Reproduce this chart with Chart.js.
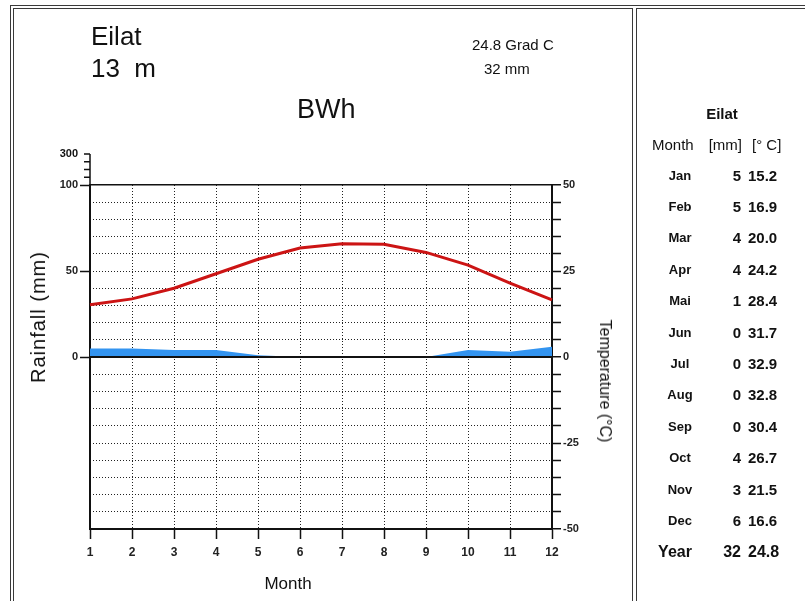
<!DOCTYPE html>
<html>
<head>
<meta charset="utf-8">
<script src="https://cdn.jsdelivr.net/npm/chart.js@4/dist/chart.umd.min.js"></script>
<style>
  body { margin: 0; background: #fff; font-family: "Liberation Sans", Arial, sans-serif; }
  #wrap { position: relative; width: 805px; height: 601px; overflow: hidden; }
  #chart { position: absolute; left: 0; top: 0; }
  .t { position: absolute; white-space: nowrap; color: #111; line-height: 1; }
  .ln { position: absolute; background: #3a3a3a; }
  .b { font-weight: bold; }
</style>
</head>
<body>
<div id="wrap">
  <canvas id="chart" width="805" height="601"></canvas>

  <!-- frame lines -->
  <div class="ln" style="left:10px;top:5px;width:795px;height:1px"></div>
  <div class="ln" style="left:13px;top:8px;width:620px;height:1px"></div>
  <div class="ln" style="left:636px;top:8px;width:169px;height:1px"></div>
  <div class="ln" style="left:10px;top:5px;width:1px;height:596px"></div>
  <div class="ln" style="left:13px;top:8px;width:1px;height:593px"></div>
  <div class="ln" style="left:632px;top:8px;width:1px;height:593px"></div>
  <div class="ln" style="left:636px;top:8px;width:1px;height:593px"></div>

  <!-- header -->
  <div class="t" style="left:91px;top:23px;font-size:26px">Eilat</div>
  <div class="t" style="left:91px;top:55px;font-size:26px;white-space:pre">13  m</div>
  <div class="t" style="left:297px;top:96px;font-size:27px">BWh</div>
  <div class="t" style="left:472px;top:37px;font-size:15px">24.8 Grad C</div>
  <div class="t" style="left:484px;top:61px;font-size:15px">32 mm</div>

  <!-- axis titles -->
  <div class="t" style="left:38px;top:317px;font-size:20px;letter-spacing:1px;transform:translate(-50%,-50%) rotate(-90deg)">Rainfall (mm)</div>
  <div class="t" style="left:605px;top:381px;font-size:16px;transform:translate(-50%,-50%) rotate(90deg)">Temperature (°C)</div>
  <div class="t" style="left:288px;top:583px;font-size:17px;transform:translate(-50%,-50%)">Month</div>

  <!-- climate table -->
  <div id="table"></div>
</div>

<script>
const monthTicks = ["1", "2", "3", "4", "5", "6", "7", "8", "9", "10", "11", "12"];
const monthNames = ["Jan", "Feb", "Mar", "Apr", "Mai", "Jun", "Jul", "Aug", "Sep", "Oct", "Nov", "Dec"];
const rainfall = [5, 5, 4, 4, 1, 0, 0, 0, 0, 4, 3, 6];
const temperature = [15.2, 16.9, 20.0, 24.2, 28.4, 31.7, 32.9, 32.8, 30.4, 26.7, 21.5, 16.6];
const yearRain = 32;
const yearTemp = "24.8";
const rainTicks = [0, 50, 100];
const rainTopTicks = [150, 200, 250, 300];

// table on the right
const table = document.getElementById("table");
function cell(text, x, y, size, cls, align) {
  const d = document.createElement("div");
  d.className = "t " + (cls || "");
  d.textContent = text;
  d.style.fontSize = size + "px";
  d.style.top = y - size / 2 + "px";
  if (align === "right") d.style.right = 805 - x + "px";
  else if (align === "center") { d.style.left = x + "px"; d.style.transform = "translateX(-50%)"; }
  else d.style.left = x + "px";
  table.appendChild(d);
}
cell("Eilat", 722, 113, 15, "b", "center");
cell("Month", 652, 144, 15);
cell("[mm]", 742, 144, 15, "", "right");
cell("[° C]", 752, 144, 15);
monthNames.forEach((m, i) => {
  const y = 175 + i * 31.4;
  cell(m, 680, y, 13, "b", "center");
  cell(String(rainfall[i]), 741, y, 15, "b", "right");
  cell(temperature[i].toFixed(1), 748, y, 15, "b");
});
cell("Year", 675, 552, 16, "b", "center");
cell(String(yearRain), 741, 552, 16, "b", "right");
cell(yearTemp, 748, 552, 16, "b");

const solidAt = [50, 0, -50];

// left axis continues above 100 mm on a compressed scale
const rainTop = {
  id: "rainTop",
  afterDraw(chart) {
    const s = chart.scales.yRain, ctx = chart.ctx;
    const x = chart.chartArea.left;
    const pos = (v) => s.getPixelForValue(100 + (v - 100) * 0.09);
    ctx.save();
    ctx.strokeStyle = "#111";
    ctx.lineWidth = 1.5;
    ctx.beginPath();
    ctx.moveTo(x, pos(100));
    ctx.lineTo(x, pos(300));
    rainTopTicks.forEach((v) => {
      ctx.moveTo(x, pos(v));
      ctx.lineTo(x - 6, pos(v));
    });
    ctx.stroke();
    ctx.fillStyle = "#111";
    ctx.font = "bold 11px 'Liberation Sans', Arial";
    ctx.textAlign = "right";
    ctx.textBaseline = "middle";
    ctx.fillText("300", x - 12, pos(300));
    ctx.restore();
  },
};

// zero line drawn over the rain fill
const zeroLine = {
  id: "zeroLine",
  afterDatasetsDraw(chart) {
    const s = chart.scales.yTemp, ctx = chart.ctx, a = chart.chartArea;
    const y = s.getPixelForValue(0);
    ctx.save();
    ctx.strokeStyle = "#111";
    ctx.lineWidth = 2;
    ctx.beginPath();
    ctx.moveTo(a.left, y);
    ctx.lineTo(a.right, y);
    ctx.stroke();
    ctx.restore();
  },
};

new Chart(document.getElementById("chart"), {
  type: "line",
  data: {
    labels: monthTicks,
    datasets: [
      {
        label: "Rainfall",
        data: rainfall,
        yAxisID: "yRain",
        borderWidth: 0,
        borderColor: "#3394f0",
        backgroundColor: "#3394f0",
        fill: "origin",
        pointRadius: 0,
        tension: 0,
      },
      {
        label: "Temperature",
        data: temperature,
        yAxisID: "yTemp",
        borderColor: "#cc1414",
        borderWidth: 3,
        fill: false,
        pointRadius: 0,
        tension: 0,
      },
    ],
  },
  options: {
    responsive: false,
    animation: false,
    layout: { padding: { left: 40, right: 193, top: 185, bottom: 32 } },
    plugins: { legend: { display: false }, tooltip: { enabled: false } },
    scales: {
      x: {
        offset: false,
        afterFit: (s) => { s.height = 40; },
        grid: {
          color: "#222",
          lineWidth: 1,
          tickColor: "#111",
          tickWidth: 1.5,
          tickLength: 10,
          offset: false,
        },
        border: { display: true, color: "#111", width: 2, dash: [1, 2] },
        ticks: {
          color: "#222",
          font: { family: "'Liberation Sans', Arial", size: 12, weight: "bold" },
          autoSkip: false,
          maxRotation: 0,
          padding: 6,
        },
      },
      yRain: {
        type: "linear",
        position: "left",
        min: -100,
        max: 100,
        afterFit: (s) => { s.width = 50; },
        afterBuildTicks: (s) => { s.ticks = rainTicks.map((v) => ({ value: v })); },
        grid: { drawOnChartArea: false, tickColor: "#111", tickWidth: 1.5, tickLength: 10 },
        border: { display: true, color: "#111", width: 2 },
        ticks: {
          color: "#222",
          font: { family: "'Liberation Sans', Arial", size: 11, weight: "bold" },
          padding: 2,
        },
      },
      yTemp: {
        type: "linear",
        position: "right",
        min: -50,
        max: 50,
        afterFit: (s) => { s.width = 60; },
        grid: {
          color: (c) => (c.tick && solidAt.includes(c.tick.value) ? "#111" : "#222"),
          lineWidth: (c) => (c.tick && solidAt.includes(c.tick.value) ? 1.5 : 1),
          tickColor: "#111",
          tickWidth: 1.5,
          tickLength: 9,
        },
        border: {
          display: true,
          color: "#111",
          width: 2,
          dash: (c) => (c.tick && solidAt.includes(c.tick.value) ? [] : [1, 2]),
        },
        ticks: {
          stepSize: 5,
          color: "#222",
          font: { family: "'Liberation Sans', Arial", size: 11, weight: "bold" },
          padding: 2,
          callback: (v) => (v % 25 === 0 ? v : ""),
        },
      },
    },
  },
  plugins: [rainTop, zeroLine],
});
</script>
</body>
</html>
